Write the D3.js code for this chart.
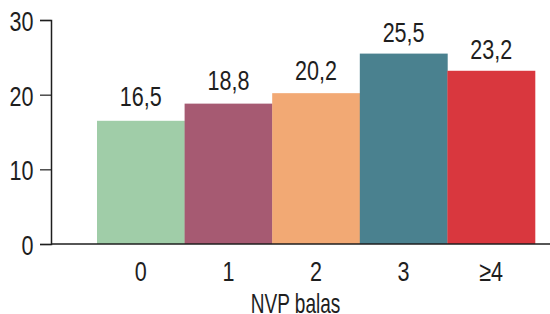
<!DOCTYPE html>
<html>
<head>
<meta charset="utf-8">
<script src="https://cdn.jsdelivr.net/npm/d3@7"></script>
<style>
  body { margin: 0; background: #fff; }
  svg text { font-family: "Liberation Sans", Arial, sans-serif; fill: #1e1e1e; }
</style>
</head>
<body>
<svg id="chart" width="550" height="314"></svg>
<script>
var categories = ['0', '1', '2', '3', '\u22654'];
var values = [16.5, 18.8, 20.2, 25.5, 23.2];
var labels = ['16,5', '18,8', '20,2', '25,5', '23,2'];
var colors = ['#a0cda8', '#a65a72', '#f2a974', '#4a818f', '#d9373e'];
var yTicks = [0, 10, 20, 30];

var squeeze = 0.77; // condensed look
var fontSize = '28px';

var svg = d3.select('#chart');

var x = d3.scaleBand()
    .domain(categories)
    .range([97, 535])
    .padding(0);

var y = d3.scaleLinear()
    .domain([0, 30])
    .range([244, 20]);

// labels sit on a slightly flatter scale than the bars
var yLabel = d3.scaleLinear()
    .domain([0, 30])
    .range([224, 10]);

// bars
svg.append('g')
    .selectAll('rect')
    .data(values)
    .enter()
    .append('rect')
    .attr('x', function(d, i) { return x(categories[i]); })
    .attr('width', x.bandwidth() + 0.3)
    .attr('y', function(d) { return y(d); })
    .attr('height', function(d) { return y(0) - y(d); })
    .style('fill', function(d, i) { return colors[i]; });

// value labels
svg.append('g')
    .selectAll('text')
    .data(values)
    .enter()
    .append('text')
    .attr('transform', function(d, i) {
        var cx = x(categories[i]) + x.bandwidth() / 2;
        return 'translate(' + cx + ',' + yLabel(d) + ') scale(' + squeeze + ',1)';
    })
    .attr('text-anchor', 'middle')
    .style('font-size', fontSize)
    .text(function(d, i) { return labels[i]; });

// y axis
var yAxis = svg.append('g')
    .attr('transform', 'translate(51,0)')
    .call(d3.axisLeft(y).tickValues(yTicks).tickSize(11));
yAxis.selectAll('text')
    .attr('x', 0)
    .attr('y', 0)
    .attr('dy', null)
    .attr('transform', 'translate(-17.5,10.5) scale(' + squeeze + ',1)')
    .style('font-size', fontSize);

// x axis
var xAxis = svg.append('g')
    .attr('transform', 'translate(0,244)')
    .call(d3.axisBottom(x).tickSize(0));
xAxis.select('.domain').attr('d', 'M51,0H550');
xAxis.selectAll('text')
    .attr('y', 0)
    .attr('dy', null)
    .attr('transform', 'translate(0,36.5) scale(' + squeeze + ',1)')
    .style('font-size', fontSize);

svg.selectAll('.domain').style('stroke', '#1e1e1e').style('stroke-width', 1.5);
svg.selectAll('.tick line').style('stroke', '#1e1e1e').style('stroke-width', 1.2);

// axis title
svg.append('text')
    .attr('transform', 'translate(295.5,313) scale(0.68,1)')
    .attr('text-anchor', 'middle')
    .style('font-size', '28px')
    .text('NVP balas');
</script>
</body>
</html>
